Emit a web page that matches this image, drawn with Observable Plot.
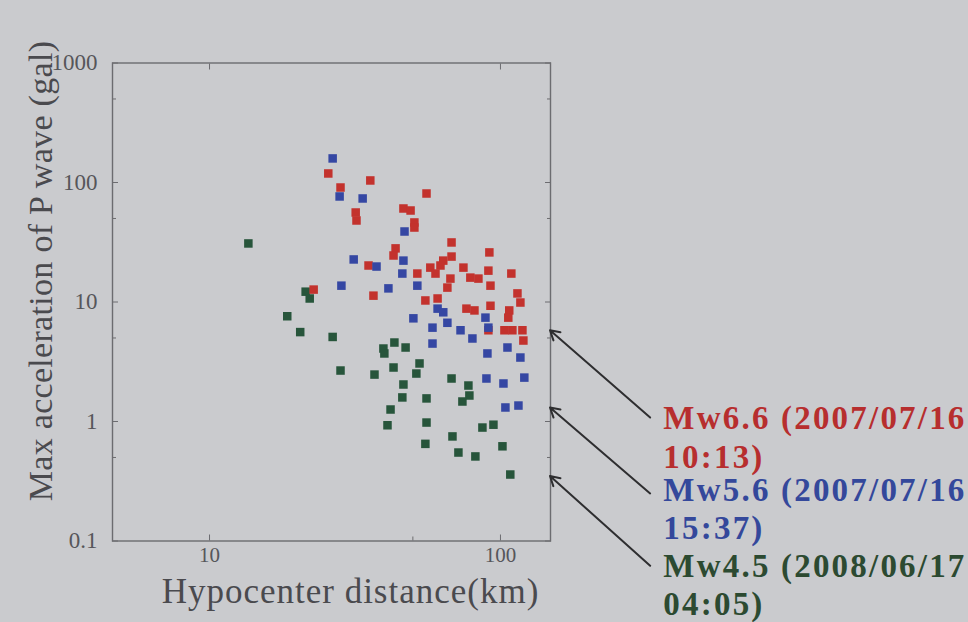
<!DOCTYPE html>
<html>
<head>
<meta charset="utf-8">
<script src="https://cdn.jsdelivr.net/npm/d3@7"></script>
<script src="https://cdn.jsdelivr.net/npm/@observablehq/plot@0.6"></script>
<style>
html, body { margin: 0; padding: 0; background: #cacbce; }
#chart { width: 968px; height: 622px; overflow: hidden; }
</style>
</head>
<body>
<div id="chart"></div>
<script>
// Mw6.6 (red) : hypocenter distance (km), max P-wave acceleration (gal)
const redDist = [25.6, 35.7, 28.2, 31.8, 32.0, 55.7, 46.4, 49.1, 50.6, 50.6, 43.6, 42.9, 67.9, 91.6, 35.2,
  51.8, 57.4, 59.8, 63.6, 67.9, 67.3, 65.7, 74.6, 78.8, 84.0, 90.9, 92.4, 109.0, 114.4, 117.1,
  55.2, 60.8, 76.4, 81.4, 92.4, 107.2, 106.4, 103.2, 109.9, 119.0, 119.9, 90.9, 36.6, 22.8, 62.2];
const redAcc = [119, 104, 90.8, 56.1, 48.1, 80.9, 60.6, 58.3, 46.3, 42.0, 28.1, 24.5, 31.5, 26.0, 20.2,
  17.3, 19.4, 17.3, 22.2, 24.0, 15.7, 13.2, 19.4, 16.0, 15.7, 18.3, 13.7, 17.3, 11.8, 9.9,
  10.3, 10.7, 8.8, 8.5, 9.3, 8.5, 7.4, 5.8, 5.8, 5.8, 4.76, 5.8, 11.3, 12.7, 20.2];

// Mw5.6 (blue)
const blueDist = [26.5, 28.0, 33.6, 46.8, 31.3, 37.5, 46.4, 46.0, 28.4, 41.2, 51.8, 50.2, 58.4, 58.4, 60.8,
  63.6, 65.7, 72.9, 80.1, 88.8, 90.9, 90.2, 105.7, 117.1, 89.5, 102.4, 120.8, 104.0, 115.3];
const blueAcc = [159, 76.4, 73.5, 38.9, 22.7, 19.8, 22.2, 17.3, 13.7, 13.0, 13.7, 7.3, 6.1, 4.49, 8.8,
  8.2, 6.7, 5.8, 4.95, 7.4, 6.1, 3.71, 4.16, 3.43, 2.29, 2.08, 2.33, 1.31, 1.36];

// Mw4.5 (green)
const greenDist = [13.6, 21.4, 22.1, 18.5, 20.5, 26.5, 28.2, 36.9, 39.6, 39.9, 43.2, 47.2, 42.9, 52.7, 51.4,
  46.4, 46.0, 41.9, 40.9, 55.7, 55.7, 55.2, 67.9, 77.6, 78.2, 74.0, 68.4, 71.7, 82.0, 86.7,
  94.6, 101.6, 108.1];
const greenAcc = [30.9, 12.2, 10.7, 7.6, 5.6, 5.1, 2.67, 2.47, 4.08, 3.71, 4.58, 4.16, 2.83, 3.06, 2.52,
  2.04, 1.59, 1.26, 0.93, 1.56, 0.98, 0.65, 2.29, 2.00, 1.65, 1.47, 0.75, 0.55, 0.51, 0.89,
  0.94, 0.62, 0.36];

// Axis ticks
const yTicks = [0.1, 1, 10, 100, 1000];
const yTickLabels = ["0.1", "1", "10", "100", "1000"];
const yMinorTicks = [0.5, 5, 50, 500];
const xTicks = [10, 100];
const xTickLabels = ["10", "100"];
const xMinorTicks = [50];

// Series legend labels and colours
const seriesNames = ["Mw6.6 (2007/07/16\n10:13)", "Mw5.6 (2007/07/16\n15:37)", "Mw4.5 (2008/06/17\n04:05)"];
const pointColors = ["#c3322d", "#3547a3", "#27553b"];
const labelColors = ["#b72e2e", "#34489b", "#2c4a31"];
const yTitle = "Max acceleration of P wave (gal)";
const xTitle = "Hypocenter distance(km)";

// Annotation anchors (data units): arrow tip at frame edge, tail near the label
const arrowTipDist = [148, 148, 148];
const arrowTipAcc = [5.8, 1.31, 0.35];
const arrowTailDist = [327, 327, 327];
const arrowTailAcc = [1.08, 0.25, 0.062];
const labelDist = [363, 363, 363];
const labelAcc = [0.412, 0.104, 0.0238];

const rows = (d, a, s) => d.map((v, i) => ({dist: v, acc: a[i], color: pointColors[s]}));
const points = [...rows(greenDist, greenAcc, 2), ...rows(redDist, redAcc, 0), ...rows(blueDist, blueAcc, 1)];
const arrows = seriesNames.map((n, i) => ({x1: arrowTailDist[i], y1: arrowTailAcc[i], x2: arrowTipDist[i], y2: arrowTipAcc[i]}));
const labels = seriesNames.map((n, i) => ({name: n, x: labelDist[i], y: labelAcc[i], color: labelColors[i]}));

const axisColor = "#6c6c70";
const tickText = "#56565a";

const chart = Plot.plot({
  width: 968,
  height: 622,
  marginLeft: 112,
  marginRight: 418,
  marginTop: 62.5,
  marginBottom: 81.5,
  style: {background: "transparent", fontFamily: "'Liberation Serif', serif", overflow: "visible"},
  x: {type: "log", domain: [4.64, 148.6], label: null},
  y: {type: "log", domain: [0.1, 1000], label: null},
  marks: [
    Plot.frame({stroke: axisColor, strokeWidth: 1.4}),
    Plot.axisY({ticks: yTicks, tickFormat: d => yTickLabels[yTicks.indexOf(d)], tickSize: -6, tickPadding: 21,
      fontSize: 23, fill: tickText, stroke: axisColor, label: null}),
    Plot.axisY({ticks: yMinorTicks, tickFormat: () => "", tickSize: -4, stroke: axisColor, label: null}),
    Plot.axisY({anchor: "right", ticks: yTicks, tickFormat: () => "", tickSize: -6, stroke: axisColor, label: null}),
    Plot.axisY({anchor: "right", ticks: yMinorTicks, tickFormat: () => "", tickSize: -4, stroke: axisColor, label: null}),
    Plot.axisX({ticks: xTicks, tickFormat: d => xTickLabels[xTicks.indexOf(d)], tickSize: -6, tickPadding: 12,
      fontSize: 21, fill: tickText, stroke: axisColor, label: null}),
    Plot.axisX({ticks: xMinorTicks, tickFormat: () => "", tickSize: -4, stroke: axisColor, label: null}),
    Plot.axisX({anchor: "top", ticks: xTicks, tickFormat: () => "", tickSize: -6, stroke: axisColor, label: null}),
    Plot.dot(points, {x: "dist", y: "acc", symbol: "square", r: 4.8, fill: d => d.color, stroke: null}),
    Plot.arrow(arrows, {x1: "x1", y1: "y1", x2: "x2", y2: "y2", stroke: "#2e2e30", strokeWidth: 2, headLength: 8}),
    Plot.text(labels, {x: "x", y: "y", text: "name", fill: "color", textAnchor: "start", lineAnchor: "bottom",
      lineHeight: 1.16, fontSize: 33, fontWeight: "bold"}),
    Plot.text([yTitle], {frameAnchor: "left", textAnchor: "middle", dx: -71, dy: -31, rotate: -90,
      fontSize: 34, fill: "#4a4a4e"}),
    Plot.text([xTitle], {frameAnchor: "bottom", textAnchor: "middle", dx: 19, dy: 61.5, lineAnchor: "bottom",
      fontSize: 35, fill: "#4a4a4e"})
  ]
});
// widen the photographed slide lettering a little
d3.select(chart).selectAll("text").each(function () {
  const t = this.textContent || "";
  if (t.startsWith("Mw")) this.style.letterSpacing = "2.2px";
  else if (t === xTitle) this.style.letterSpacing = "1px";
  else if (t === yTitle) this.style.letterSpacing = "0.3px";
});
document.getElementById("chart").appendChild(chart);
</script>
</body>
</html>
